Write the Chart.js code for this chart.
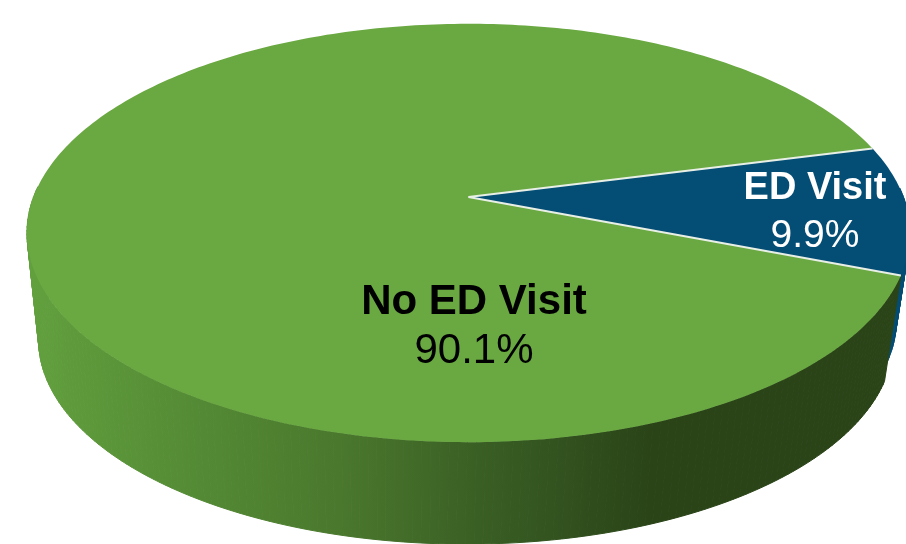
<!DOCTYPE html>
<html>
<head>
<meta charset="utf-8">
<title>ED Visit</title>
<script src="https://cdn.jsdelivr.net/npm/chart.js@4/dist/chart.umd.min.js"></script>
<style>
    html, body { margin: 0; padding: 0; background: #ffffff; overflow: hidden; }
    canvas { display: block; }
</style>
</head>
<body>
<canvas id="edChart" width="906" height="544"></canvas>
<script>
// Chart data
const categories = ['ED Visit', 'No ED Visit'];
const shares = [9.9, 90.1];

const sliceColors = ['#044d75', '#6aa842'];
const labelColors = ['#ffffff', '#000000'];

// Projection of the flat pie: top face and bottom rim of the disc
const tilt = 0.172;
const topFace = { cx: 468.5, cy: 197, a: 435, b: 203 };
const bottomRim = { cx: 466, cy: 305, a: 421, b: 198 };
const sliverRim = { cx: 469, cy: 285, a: 421, b: 198 };

function project(face, angle) {
    const u = Math.cos(angle);
    const v = Math.sin(angle);
    const w = 1 - tilt * v;
    return { x: face.cx + face.a * u / w, y: face.cy + face.b * v / w };
}

function sampleAngles(start, end) {
    const steps = Math.ceil((end - start) / (Math.PI / 180));
    const list = [];
    for (let i = 0; i <= steps; i++) {
        list.push(start + (end - start) * i / steps);
    }
    return list;
}

// Side wall, one small quad per step so the silhouette stays closed.
// The back half is hidden by the top face, skip it.
function drawWall(ctx, arc, rim, paint) {
    const angles = sampleAngles(arc.startAngle, arc.endAngle);
    ctx.fillStyle = paint;
    ctx.strokeStyle = paint;
    ctx.lineWidth = 1;
    for (let i = 0; i < angles.length - 1; i++) {
        if (Math.sin(angles[i]) < -0.05) continue;
        const a = project(topFace, angles[i]);
        const b = project(topFace, angles[i + 1]);
        const c = project(rim, angles[i + 1]);
        const d = project(rim, angles[i]);
        ctx.beginPath();
        ctx.moveTo(a.x, a.y);
        ctx.lineTo(b.x, b.y);
        ctx.lineTo(c.x, c.y);
        ctx.lineTo(d.x, d.y);
        ctx.closePath();
        ctx.fill();
        ctx.stroke();
    }
}

function drawFace(ctx, arc, color) {
    ctx.beginPath();
    ctx.moveTo(topFace.cx, topFace.cy);
    sampleAngles(arc.startAngle, arc.endAngle).forEach(angle => {
        const p = project(topFace, angle);
        ctx.lineTo(p.x, p.y);
    });
    ctx.closePath();
    ctx.fillStyle = color;
    ctx.fill();
}

function drawEdge(ctx, angle) {
    const p = project(topFace, angle);
    ctx.beginPath();
    ctx.moveTo(topFace.cx, topFace.cy);
    ctx.lineTo(p.x, p.y);
    ctx.strokeStyle = '#e8efe6';
    ctx.lineWidth = 2;
    ctx.stroke();
}

const tiltedPie = {
    id: 'tiltedPie',
    beforeDatasetDraw(chart, args) {
        const ctx = chart.ctx;
        const arcs = chart.getDatasetMeta(args.index).data;

        const wallGreen = ctx.createLinearGradient(30, 0, 650, 0);
        wallGreen.addColorStop(0, '#62a03e');
        wallGreen.addColorStop(0.28, '#538934');
        wallGreen.addColorStop(0.5, '#4a782d');
        wallGreen.addColorStop(0.75, '#385c23');
        wallGreen.addColorStop(1, '#2a4418');

        ctx.save();
        drawWall(ctx, arcs[0], sliverRim, sliceColors[0]);
        drawWall(ctx, arcs[1], bottomRim, wallGreen);
        arcs.forEach((arc, i) => drawFace(ctx, arc, sliceColors[i]));
        drawEdge(ctx, arcs[0].startAngle);
        drawEdge(ctx, arcs[0].endAngle);
        ctx.restore();
        return false;
    },
    afterDraw(chart) {
        const ctx = chart.ctx;
        const spots = [
            { x: 815, name: 199, share: 247, nameSize: 38, shareSize: 39 },
            { x: 474, name: 314, share: 363, nameSize: 42, shareSize: 42 }
        ];
        ctx.save();
        ctx.textAlign = 'center';
        ctx.textBaseline = 'alphabetic';
        categories.forEach((name, i) => {
            const s = spots[i];
            ctx.fillStyle = labelColors[i];
            ctx.font = 'bold ' + s.nameSize + 'px "Liberation Sans"';
            ctx.fillText(name, s.x, s.name);
            ctx.font = s.shareSize + 'px "Liberation Sans"';
            ctx.fillText(shares[i].toFixed(1) + '%', s.x, s.share);
        });
        ctx.restore();
    }
};

new Chart(document.getElementById('edChart'), {
    type: 'pie',
    data: {
        labels: categories,
        datasets: [{
            data: shares,
            backgroundColor: sliceColors,
            borderWidth: 0
        }]
    },
    options: {
        responsive: false,
        animation: false,
        rotation: 75.6,
        plugins: {
            legend: { display: false },
            tooltip: { enabled: false }
        }
    },
    plugins: [tiltedPie]
});
</script>
</body>
</html>
